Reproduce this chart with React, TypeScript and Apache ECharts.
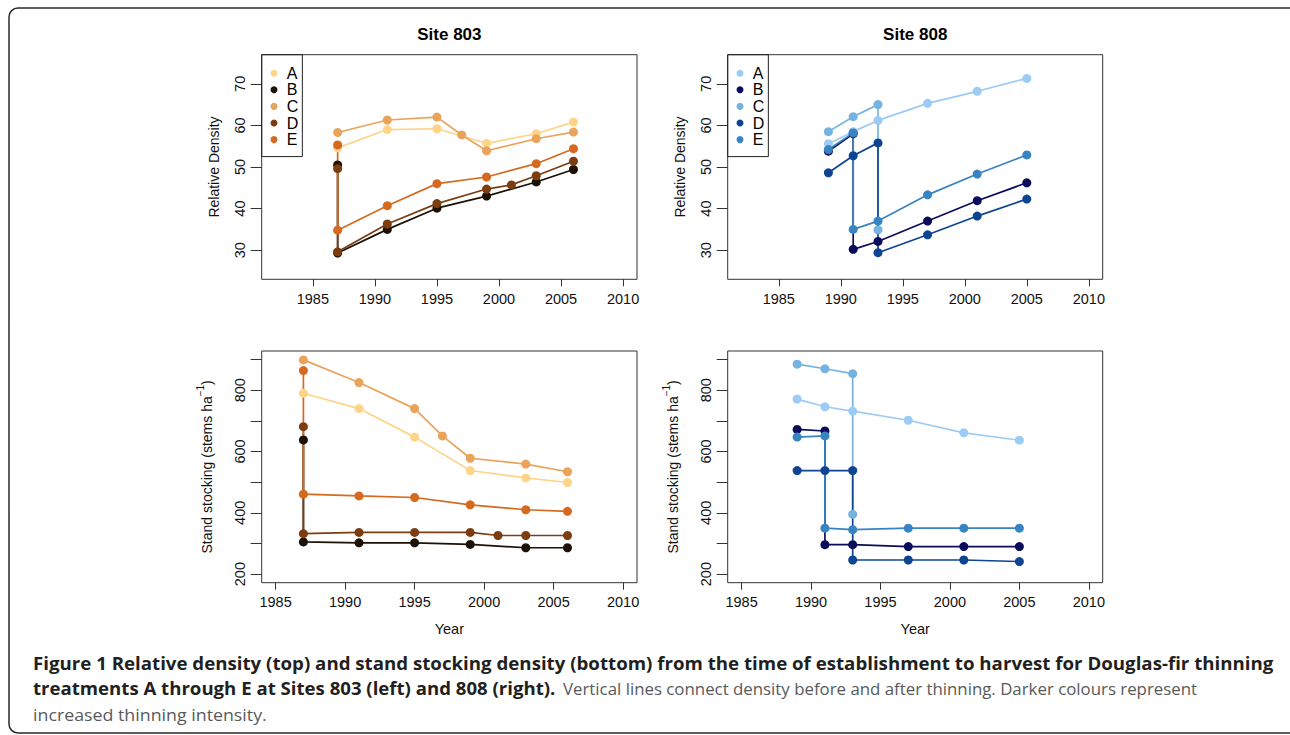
import React, { useEffect, useRef } from 'react';
import * as echarts from 'echarts';

const treatments = ['A', 'B', 'C', 'D', 'E'];
const colors803 = ['#FDD488', '#1C1105', '#E9A35B', '#7C3D10', '#D5691F'];
const colors808 = ['#9CCBF6', '#0B0B5C', '#74B3DF', '#0E4592', '#3884C2'];

const siteTitles = ['Site 803', 'Site 808'];
const xTicksTop = [1985, 1990, 1995, 2000, 2005, 2010];
const xTicksBottom = [1985, 1990, 1995, 2000, 2005, 2010];
const yTicksDensity = [30, 40, 50, 60, 70];
const yTicksStocking = [200, 300, 400, 500, 600, 700, 800, 900];
const yLabelsStocking = [200, 400, 600, 800];

// Site 803 – relative density [year, value]
const rd803A = [[1987, 54.6], [1991, 59.0], [1995, 59.2], [1999, 55.7], [2003, 58.0], [2006, 60.8]];
const rd803B = [[1987, 50.5], [1987, 29.3], [1991, 35.0], [1995, 40.1], [1999, 43.0], [2003, 46.4], [2006, 49.4]];
const rd803C = [[1987, 58.3], [1991, 61.3], [1995, 62.0], [1997, 57.7], [1999, 53.9], [2003, 56.8], [2006, 58.4]];
const rd803D = [[1987, 49.6], [1987, 29.6], [1991, 36.3], [1995, 41.2], [1999, 44.7], [2001, 45.7], [2003, 47.9], [2006, 51.4]];
const rd803E = [[1987, 55.3], [1987, 34.8], [1991, 40.7], [1995, 46.0], [1999, 47.6], [2003, 50.8], [2006, 54.4]];

// Site 803 – stand stocking [year, stems/ha]
const ss803A = [[1987, 790], [1991, 740], [1995, 647], [1999, 538], [2003, 514], [2006, 499]];
const ss803B = [[1987, 638], [1987, 305], [1991, 302], [1995, 302], [1999, 297], [2003, 286], [2006, 286]];
const ss803C = [[1987, 899], [1991, 825], [1995, 740], [1997, 651], [1999, 578], [2003, 559], [2006, 534]];
const ss803D = [[1987, 681], [1987, 332], [1991, 336], [1995, 336], [1999, 336], [2001, 326], [2003, 326], [2006, 326]];
const ss803E = [[1987, 864], [1987, 461], [1991, 455], [1995, 450], [1999, 426], [2003, 410], [2006, 405]];

// Site 808 – relative density
const rd808A = [[1989, 55.6], [1991, 58.5], [1993, 61.2], [1997, 65.3], [2001, 68.2], [2005, 71.3]];
const rd808B = [[1989, 53.8], [1991, 58.0], [1991, 30.2], [1993, 32.1], [1997, 37.0], [2001, 41.9], [2005, 46.2]];
const rd808C = [[1989, 58.5], [1991, 62.1], [1993, 65.0], [1993, 34.9]];
const rd808D = [[1989, 48.6], [1991, 52.7], [1993, 55.8], [1993, 29.4], [1997, 33.7], [2001, 38.2], [2005, 42.3]];
const rd808E = [[1989, 54.2], [1991, 58.2], [1991, 35.0], [1993, 37.0], [1997, 43.3], [2001, 48.3], [2005, 52.9]];

// Site 808 – stand stocking
const ss808A = [[1989, 771], [1991, 746], [1993, 732], [1997, 702], [2001, 661], [2005, 637]];
const ss808B = [[1989, 672], [1991, 667], [1991, 296], [1993, 296], [1997, 290], [2001, 290], [2005, 290]];
const ss808C = [[1989, 885], [1991, 870], [1993, 854], [1993, 395]];
const ss808D = [[1989, 538], [1991, 538], [1993, 538], [1993, 246], [1997, 246], [2001, 246], [2005, 241]];
const ss808E = [[1989, 647], [1991, 651], [1991, 350], [1993, 345], [1997, 350], [2001, 350], [2005, 350]];

const captionLine1 = 'Figure 1 Relative density (top) and stand stocking density (bottom) from the time of establishment to harvest for Douglas-fir thinning';
const captionLine2Bold = 'treatments A through E at Sites 803 (left) and 808 (right).';
const captionLine2 = 'Vertical lines connect density before and after thinning. Darker colours represent';
const captionLine3 = 'increased thinning intensity.';

const FONT = '"Liberation Sans", Arial, Helvetica, sans-serif';
const CAPFONT = '"Open Sans", "Noto Sans", sans-serif';

function measure(text: string, font: string): number {
  const ctx = document.createElement('canvas').getContext('2d');
  if (!ctx) return 1;
  ctx.font = font;
  return ctx.measureText(text).width || 1;
}

export default function App() {
  const ref = useRef<HTMLDivElement>(null);
  useEffect(() => {
    if (!ref.current) return;
    const chart = echarts.init(ref.current, undefined, { renderer: 'svg' });

    const grids = [
      { left: 261.7, top: 54.7, width: 375.3, height: 224.6 },
      { left: 727.7, top: 54.7, width: 375.0, height: 224.6 },
      { left: 261.7, top: 351, width: 375.3, height: 231.7 },
      { left: 727.7, top: 351, width: 375.0, height: 231.7 },
    ].map((g) => ({ ...g, show: true, borderColor: '#333', borderWidth: 1, containLabel: false }));

    const mkX = (i: number) => {
      const top = i < 2;
      return {
        type: 'value',
        gridIndex: i,
        min: top ? 1980.88 : 1984,
        max: top ? 2011.12 : 2011,
        splitLine: { show: false },
        axisLine: { show: false },
        axisTick: { show: true, length: 7, customValues: top ? xTicksTop : xTicksBottom, lineStyle: { color: '#333', width: 1 } },
        axisLabel: {
          customValues: top ? xTicksTop : xTicksBottom,
          formatter: (v: number) => String(v),
          fontSize: 14.5,
          fontFamily: FONT,
          color: '#111',
          margin: 12,
        },
        name: top ? '' : 'Year',
        nameLocation: 'middle',
        nameGap: 39,
        nameTextStyle: { fontSize: 14.5, fontFamily: FONT, color: '#111' },
      };
    };
    const mkY = (i: number) => {
      const top = i < 2;
      return {
        type: 'value',
        gridIndex: i,
        min: top ? 23 : 172,
        max: top ? 77 : 928,
        splitLine: { show: false },
        axisLine: { show: false },
        axisTick: { show: true, length: 11, customValues: top ? yTicksDensity : yTicksStocking, lineStyle: { color: '#333', width: 1 } },
        axisLabel: {
          customValues: top ? yTicksDensity : yLabelsStocking,
          formatter: (v: number) => String(v),
          rotate: 90,
          fontSize: 14.5,
          fontFamily: FONT,
          color: '#111',
          margin: 14,
        },
        name: top ? 'Relative Density' : '{a|Stand stocking (stems ha}{s|−1}{a|)}',
        nameLocation: 'middle',
        nameRotate: 90,
        nameGap: top ? 41 : 44,
        nameTextStyle: {
          fontSize: 14,
          fontFamily: FONT,
          color: '#111',
          rich: {
            a: { fontSize: 14, fontFamily: FONT, color: '#111', lineHeight: 22, verticalAlign: 'middle' },
            s: { fontSize: 10, fontFamily: FONT, color: '#111', lineHeight: 10, verticalAlign: 'top' },
          },
        },
      };
    };

    const sets = [
      { site: '803', colors: colors803, grid: 0, data: [rd803A, rd803B, rd803C, rd803D, rd803E] },
      { site: '808', colors: colors808, grid: 1, data: [rd808A, rd808B, rd808C, rd808D, rd808E] },
      { site: '803', colors: colors803, grid: 2, data: [ss803A, ss803B, ss803C, ss803D, ss803E] },
      { site: '808', colors: colors808, grid: 3, data: [ss808A, ss808B, ss808C, ss808D, ss808E] },
    ];
    const series: any[] = [];
    sets.forEach((s) => {
      s.data.forEach((d, k) => {
        const c = s.colors[k];
        series.push({
          name: s.site + ' ' + treatments[k],
          type: 'line',
          xAxisIndex: s.grid,
          yAxisIndex: s.grid,
          data: d,
          symbol: 'circle',
          symbolSize: 9,
          showSymbol: true,
          color: c,
          lineStyle: { width: 1.7, color: c },
          itemStyle: { color: c },
          emphasis: { disabled: true },
          silent: true,
        });
      });
    });

    const mkLegend = (site: string, left: number) => ({
      data: treatments.map((t) => site + ' ' + t),
      formatter: (n: string) => n.split(' ')[1],
      orient: 'vertical',
      left,
      top: 54.7,
      icon: 'circle',
      itemWidth: 7,
      itemHeight: 7,
      itemGap: 0.6,
      padding: [10.5, 4, 9, 8.8],
      borderColor: '#222',
      borderWidth: 1,
      borderRadius: 0,
      selectedMode: false,
      textStyle: { fontSize: 16, fontFamily: FONT, color: '#000', padding: [0, 0, 0, 4.3] },
    });

    const boldFont = `bold 17px ${CAPFONT}`;
    const regFont = `17px ${CAPFONT}`;
    const capText = (text: string, x: number, y: number, target: number, bold: boolean) => ({
      type: 'text',
      x,
      y,
      scaleX: target / measure(text, bold ? boldFont : regFont),
      style: {
        text,
        fontSize: 17,
        fontFamily: CAPFONT,
        fontWeight: bold ? 'bold' : 'normal',
        fill: bold ? '#231F20' : '#58595B',
        align: 'left',
        verticalAlign: 'middle',
      },
    });

    const gridCenters = [449.35, 915.2];
    chart.setOption({
      animation: false,
      backgroundColor: '#fff',
      grid: grids,
      xAxis: [0, 1, 2, 3].map(mkX),
      yAxis: [0, 1, 2, 3].map(mkY),
      legend: [mkLegend('803', 261.7), mkLegend('808', 727.7)],
      series,
      graphic: [
        { type: 'rect', shape: { x: 9, y: 8, width: 1290, height: 725, r: 9 }, style: { fill: 'none', stroke: '#2a2a2a', lineWidth: 1.5 }, silent: true },
        ...siteTitles.map((t, i) => ({
          type: 'text',
          x: gridCenters[i],
          y: 34,
          style: { text: t, fontSize: 17, fontWeight: 'bold', fontFamily: FONT, fill: '#000', align: 'center', verticalAlign: 'middle' },
        })),
        capText(captionLine1, 33, 663.7, 1241, true),
        capText(captionLine2Bold, 33, 688.7, 523, true),
        capText(captionLine2, 563, 688.7, 635, false),
        capText(captionLine3, 33, 713.7, 234, false),
      ],
    });
    return () => chart.dispose();
  }, []);
  return <div ref={ref} style={{ position: 'fixed', left: 0, top: 0, width: 1290, height: 735, background: '#fff' }} />;
}
